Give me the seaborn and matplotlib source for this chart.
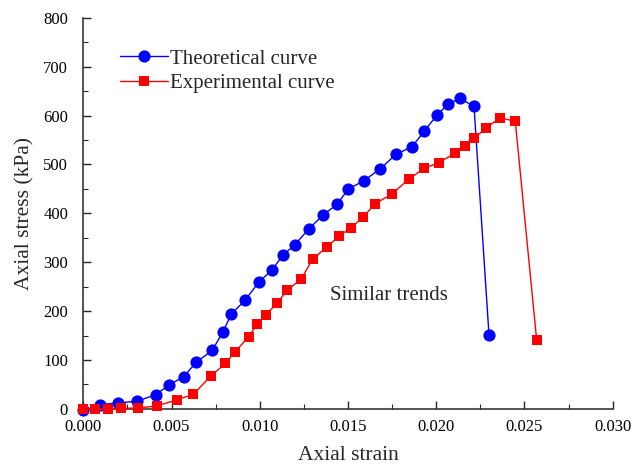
import pandas as pd
import seaborn as sns
import matplotlib.pyplot as plt
from matplotlib.ticker import MultipleLocator

# theoretical curve
theo_strain = [0.0, 0.00095, 0.00195, 0.00306, 0.0041, 0.00486, 0.00569, 0.00639,
               0.00731, 0.0079, 0.00839, 0.00918, 0.00996, 0.01069, 0.0113, 0.01199,
               0.0128, 0.0136, 0.01439, 0.015, 0.0159, 0.01683, 0.01772, 0.01862,
               0.01932, 0.02006, 0.02066, 0.02134, 0.02214, 0.02299]
theo_stress = [-3, 9, 12, 16, 29, 49, 66, 95, 120, 157, 194, 223, 260, 284, 314, 336,
               369, 397, 419, 449, 467, 491, 521, 536, 568, 602, 623, 635, 619, 151]

# experimental curve
exp_strain = [0.0, 0.00066, 0.00142, 0.00215, 0.00312, 0.00416, 0.00533, 0.00623,
              0.00722, 0.00805, 0.00861, 0.00937, 0.00986, 0.01035, 0.01096, 0.01157,
              0.01235, 0.01299, 0.01379, 0.0145, 0.01518, 0.01585, 0.01654, 0.01751,
              0.01844, 0.01932, 0.02015, 0.02106, 0.02164, 0.02215, 0.02282, 0.02361,
              0.02448, 0.02569]
exp_stress = [-1, -1, 0, 1, 2, 6, 19, 30, 67, 93, 117, 148, 174, 192, 216, 243, 266,
              306, 331, 354, 371, 392, 420, 440, 470, 492, 504, 523, 538, 554, 574,
              596, 588, 141]

sns.set_style("ticks")
plt.rcParams["font.family"] = ["Liberation Serif", "DejaVu Serif"]

theo = pd.DataFrame({"strain": theo_strain, "stress": theo_stress})
exp = pd.DataFrame({"strain": exp_strain, "stress": exp_stress})

fig = plt.figure(figsize=(6.44, 4.69), dpi=100)
ax = fig.add_axes([0.1294, 0.1281, 0.8220, 0.8339])

sns.lineplot(data=theo, x="strain", y="stress", ax=ax, color="#0000ff",
             marker="o", markersize=8.8, markeredgewidth=0, linewidth=1,
             estimator=None, label="Theoretical curve", clip_on=False, zorder=3)
sns.lineplot(data=exp, x="strain", y="stress", ax=ax, color="#ff0000",
             marker="s", markersize=7.4, markeredgewidth=0, linewidth=1,
             estimator=None, label="Experimental curve", clip_on=False, zorder=4)

ax.set_xlim(0, 0.030)
ax.set_ylim(0, 800)
ax.xaxis.set_major_locator(MultipleLocator(0.005))
ax.xaxis.set_minor_locator(MultipleLocator(0.0025))
ax.yaxis.set_major_locator(MultipleLocator(100))
ax.yaxis.set_minor_locator(MultipleLocator(50))
ax.xaxis.set_major_formatter(plt.FormatStrFormatter("%.3f"))

for s in ["top", "right"]:
    ax.spines[s].set_visible(False)
for s in ["left", "bottom"]:
    ax.spines[s].set_color("#262626")
    ax.spines[s].set_linewidth(1.1)

ax.tick_params(which="both", direction="in", color="#262626", labelsize=12,
               labelcolor="black")
ax.tick_params(which="major", length=6, width=1)
ax.tick_params(which="minor", length=3.5, width=0.8)
ax.tick_params(axis="x", pad=7)
ax.tick_params(axis="y", pad=11)

ax.set_xlabel("Axial strain", fontsize=15.5)
ax.set_ylabel("Axial stress (kPa)", fontsize=15.5)
ax.xaxis.set_label_coords(0.5, -0.095)
ax.yaxis.set_label_coords(-0.092, 0.5)

ax.text(0.01398, 231, "Similar trends", fontsize=15, va="center", ha="left")

ax.legend(loc="upper left", bbox_to_anchor=(0.069, 0.92), frameon=False,
          fontsize=15, handlelength=2.3, handletextpad=0.1, labelspacing=0.25,
          borderpad=0, borderaxespad=0)

fig.savefig("out.png", dpi=100)
